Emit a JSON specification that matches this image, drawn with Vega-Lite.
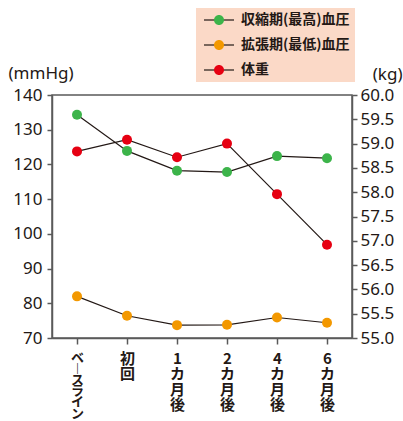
{
  "$schema": "https://vega.github.io/schema/vega-lite/v6.json",
  "width": 300,
  "height": 243,
  "autosize": {"type": "none"},
  "padding": {"left": 52, "top": 95, "right": 51, "bottom": 83},
  "background": "white",
  "config": {
    "font": "Noto Sans, Noto Sans CJK JP",
    "view": {"stroke": "#5a5a5a", "strokeWidth": 1.5},
    "axis": {
      "grid": false,
      "domainColor": "#5a5a5a",
      "domainWidth": 1.5,
      "tickColor": "#5a5a5a",
      "tickWidth": 1.5,
      "tickSize": 5,
      "labelColor": "#231815",
      "labelFontSize": 17,
      "labelFont": "Noto Sans, Noto Sans CJK JP",
      "titleColor": "#231815",
      "titleFontSize": 17,
      "titleFontWeight": "normal",
      "titleFont": "Noto Sans"
    }
  },
  "data": {
    "values": [
      {"t": "ベースライン", "series": "収縮期(最高)血圧", "value": 134.3},
      {"t": "初回", "series": "収縮期(最高)血圧", "value": 123.9},
      {"t": "1カ月後", "series": "収縮期(最高)血圧", "value": 118.2},
      {"t": "2カ月後", "series": "収縮期(最高)血圧", "value": 117.8},
      {"t": "4カ月後", "series": "収縮期(最高)血圧", "value": 122.4},
      {"t": "6カ月後", "series": "収縮期(最高)血圧", "value": 121.8},
      {"t": "ベースライン", "series": "拡張期(最低)血圧", "value": 82.0},
      {"t": "初回", "series": "拡張期(最低)血圧", "value": 76.4},
      {"t": "1カ月後", "series": "拡張期(最低)血圧", "value": 73.7},
      {"t": "2カ月後", "series": "拡張期(最低)血圧", "value": 73.8},
      {"t": "4カ月後", "series": "拡張期(最低)血圧", "value": 75.9},
      {"t": "6カ月後", "series": "拡張期(最低)血圧", "value": 74.4},
      {"t": "ベースライン", "series": "体重", "value": 58.84},
      {"t": "初回", "series": "体重", "value": 59.08},
      {"t": "1カ月後", "series": "体重", "value": 58.72},
      {"t": "2カ月後", "series": "体重", "value": 59.0},
      {"t": "4カ月後", "series": "体重", "value": 57.96},
      {"t": "6カ月後", "series": "体重", "value": 56.92}
    ]
  },
  "encoding": {
    "x": {
      "field": "t",
      "type": "ordinal",
      "sort": ["ベースライン", "初回", "1カ月後", "2カ月後", "4カ月後", "6カ月後"],
      "scale": {"type": "point", "padding": 0.5},
      "axis": {
        "title": null,
        "labelAngle": 0,
        "tickSize": 6,
        "labelPadding": 7,
        "labelAlign": "center",
        "labelBaseline": "top",
        "labelFont": "Noto Sans CJK JP",
        "labelFontWeight": "bold",
        "labelFontSize": {"condition": {"test": "datum.value === 'ベースライン'", "value": 13}, "value": 15},
        "labelLineHeight": {"expr": "datum.value === 'ベースライン' ? 11.2 : 15.5"},
        "labelExpr": "split(replace(datum.label, 'ー', '︱'), '')"
      }
    }
  },
  "layer": [
    {
      "transform": [{"filter": "datum.series !== '体重'"}],
      "encoding": {
        "y": {
          "field": "value",
          "type": "quantitative",
          "scale": {"domain": [70, 140], "nice": false, "zero": false},
          "axis": {
            "orient": "left",
            "values": [70, 80, 90, 100, 110, 120, 130, 140],
            "labelPadding": 5,
            "title": "(mmHg)",
            "titleAngle": 0,
            "titleAlign": "left",
            "titleBaseline": "middle",
            "titleX": -44,
            "titleY": -22
          }
        }
      },
      "layer": [
        {
          "mark": {"type": "line", "strokeWidth": 1.2},
          "encoding": {
            "stroke": {
              "field": "series",
              "type": "nominal",
              "sort": ["収縮期(最高)血圧", "拡張期(最低)血圧", "体重"],
              "scale": {"range": ["#231815", "#231815", "#231815"]},
              "legend": {
                "title": null,
                "orient": "none",
                "direction": "vertical",
                "legendX": 144,
                "legendY": -87,
                "padding": 5,
                "fillColor": "#fbd9c7",
                "symbolType": "M-0.8,0H5.2",
                "symbolSize": 100,
                "symbolStrokeWidth": 1.2,
                "labelOffset": 26,
                "rowPadding": 11,
                "labelFont": "Noto Sans CJK JP",
                "labelFontSize": 14,
                "labelFontWeight": "bold",
                "labelColor": "#231815",
                "labelLimit": 300
              }
            }
          }
        },
        {
          "mark": {"type": "point", "filled": true, "size": 100, "opacity": 1},
          "encoding": {
            "fill": {
              "field": "series",
              "type": "nominal",
              "scale": {
                "domain": ["収縮期(最高)血圧", "拡張期(最低)血圧", "体重"],
                "range": ["#3cb44a", "#f39800", "#e60012"]
              },
              "legend": {
                "title": null,
                "orient": "none",
                "direction": "vertical",
                "legendX": 144,
                "legendY": -87,
                "padding": 5,
                "symbolType": "M1.2,0A1,1,0,1,0,3.2,0A1,1,0,1,0,1.2,0Z",
                "symbolSize": 100,
                "symbolStrokeWidth": 0,
                "symbolOpacity": 1,
                "labelOffset": 26,
                "rowPadding": 11,
                "labelFont": "Noto Sans CJK JP",
                "labelFontSize": 14,
                "labelFontWeight": "bold",
                "labelColor": "transparent",
                "labelLimit": 300
              }
            }
          }
        }
      ]
    },
    {
      "transform": [{"filter": "datum.series === '体重'"}],
      "encoding": {
        "y": {
          "field": "value",
          "type": "quantitative",
          "scale": {"domain": [55, 60], "nice": false, "zero": false},
          "axis": {
            "orient": "right",
            "values": [55, 55.5, 56, 56.5, 57, 57.5, 58, 58.5, 59, 59.5, 60],
            "format": ".1f",
            "labelPadding": 3,
            "title": "(kg)",
            "titleAngle": 0,
            "titleAlign": "right",
            "titleBaseline": "middle",
            "titleX": 50,
            "titleY": -21
          }
        }
      },
      "layer": [
        {
          "mark": {"type": "line", "strokeWidth": 1.2},
          "encoding": {
            "stroke": {
              "field": "series",
              "type": "nominal",
              "sort": ["収縮期(最高)血圧", "拡張期(最低)血圧", "体重"],
              "scale": {"range": ["#231815", "#231815", "#231815"]}
            }
          }
        },
        {
          "mark": {"type": "point", "filled": true, "size": 100, "opacity": 1},
          "encoding": {
            "fill": {
              "field": "series",
              "type": "nominal",
              "scale": {
                "domain": ["収縮期(最高)血圧", "拡張期(最低)血圧", "体重"],
                "range": ["#3cb44a", "#f39800", "#e60012"]
              }
            }
          }
        }
      ]
    }
  ],
  "resolve": {"scale": {"y": "independent"}}
}
